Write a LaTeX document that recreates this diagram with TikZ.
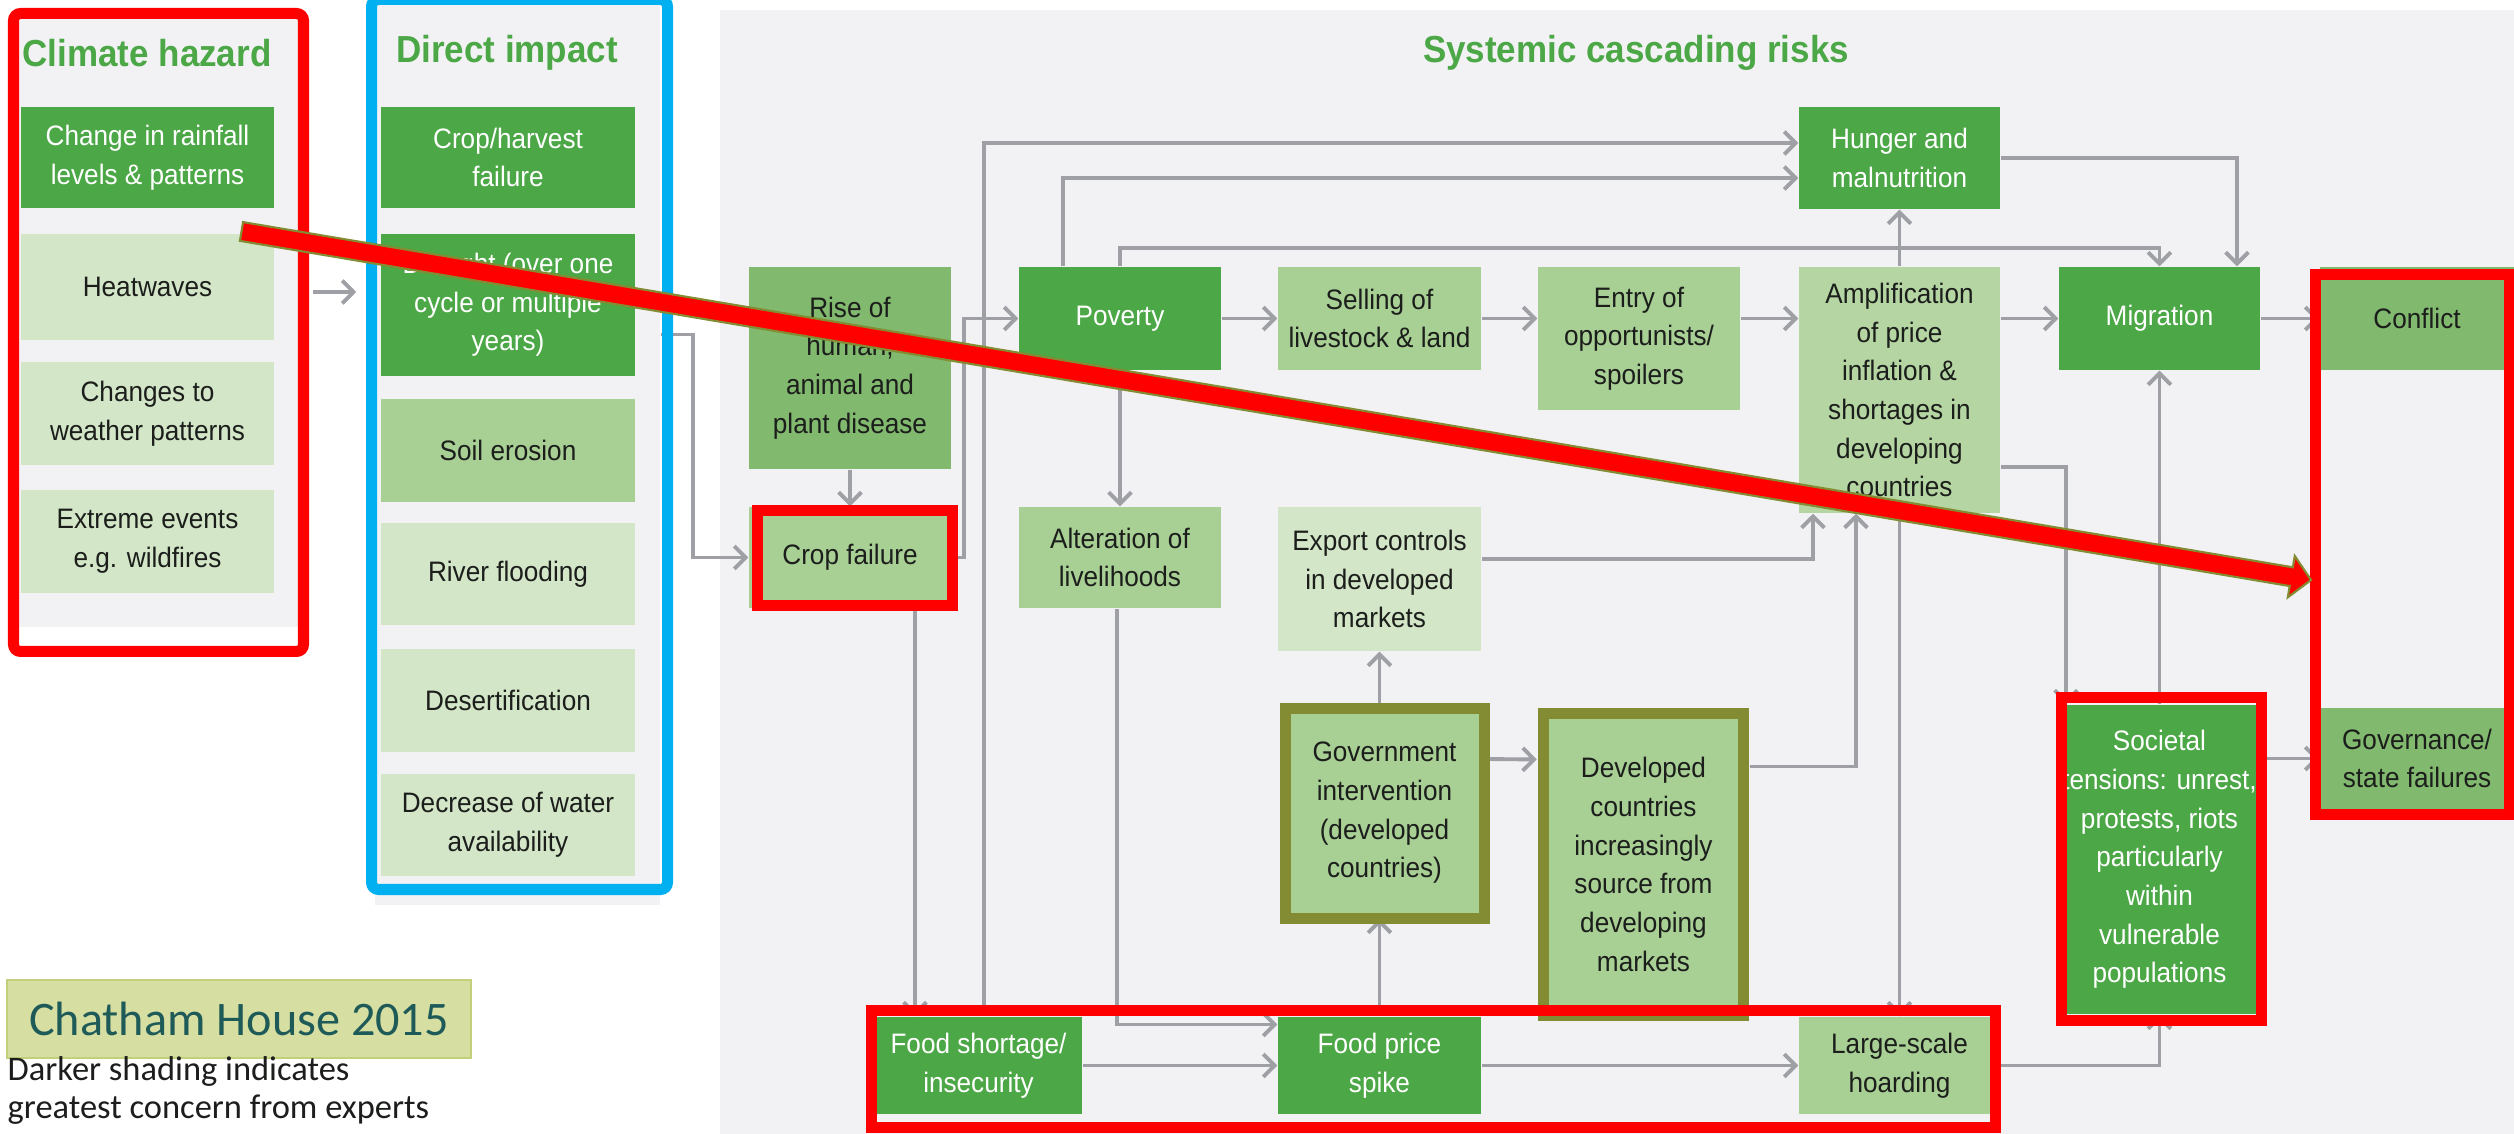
\documentclass[tikz,border=0pt]{standalone}
\usepackage{fontspec}
\setmainfont{Liberation Sans}[FakeStretch=0.93]
\newfontfamily\calibfont{Carlito}
\usepackage{xcolor}
\usepackage{tikz}
\usetikzlibrary{calc}
\usetikzlibrary{arrows.meta}

\definecolor{gdark}{RGB}{76,167,70}
\definecolor{gmed}{RGB}{129,185,110}
\definecolor{glight}{RGB}{168,207,148}
\definecolor{gpale}{RGB}{181,214,163}
\definecolor{gvlight}{RGB}{211,230,200}
\definecolor{panelgray}{RGB}{242,242,244}
\definecolor{linegray}{RGB}{158,160,166}
\definecolor{markred}{RGB}{255,0,0}
\definecolor{markblue}{RGB}{0,176,240}
\definecolor{markolive}{RGB}{131,140,50}
\definecolor{notefill}{RGB}{215,222,162}
\definecolor{notedraw}{RGB}{196,207,122}
\definecolor{noteteal}{RGB}{30,90,88}
\definecolor{boxtext}{RGB}{28,30,28}

\tikzset{
	box/.style={rectangle, inner sep=0pt, align=center, text=boxtext,
		font=\fontsize{8}{11}\selectfont, minimum width=2.02cm, minimum height=1.02cm},
	dkbox/.style={box, fill=gdark, text=white},
	mdbox/.style={box, fill=gmed},
	ltbox/.style={box, fill=glight},
	plbox/.style={box, fill=gpale},
	vlbox/.style={box, fill=gvlight},
	sz/.style 2 args={minimum width=#1cm, minimum height=#2cm},
	panel/.style={fill=panelgray, inner sep=0pt},
	conn/.style={draw=linegray, line width=1.1pt, -{Straight Barb[length=3.2pt, width=6.5pt]}},
	coltitle/.style={text=gdark, font=\fontsize{10.7}{12}\selectfont\bfseries},
	redframe/.style={draw=markred, line width=0.11cm},
	oliveframe/.style={draw=markolive, line width=0.11cm},
}

\begin{document}
\begin{tikzpicture}[x=0.01cm, y=-0.01cm]
	
	\path[use as bounding box] (0,0) rectangle (2514,1134);
	\clip (0,0) rectangle (2514,1134);
	\fill[white] (0,0) rectangle (2514,1134);
	
	% panels
	\node[panel, sz={2.86}{6.17}] (hazpanel) at (157,318.5) {};
	\node[panel, sz={2.85}{9.05}] (imppanel) at (517.5,452.5) {};
	\fill[panelgray] (720,10) rectangle (2514,1134);
	
	\node[coltitle] (hazt) at (147,53) {Climate hazard};
	\node[coltitle] (impt) at (507,53) {Direct impact};
	\node[coltitle] (syst) at (1636,53) {Systemic cascading risks};
	
	% climate hazard
	\node[dkbox, sz={2.53}{1.01}] (rain) at (147.5,157.5) {Change in rainfall\\levels \& patterns};
	\node[vlbox, sz={2.53}{1.06}] (heat) at (147.5,287) {Heatwaves};
	\node[vlbox, sz={2.53}{1.03}] (wchange) at (147.5,413.5) {Changes to\\weather patterns};
	\node[vlbox, sz={2.53}{1.03}] (extreme) at (147.5,541.5) {Extreme events\\e.g. wildfires};
	
	% direct impact
	\node[dkbox, sz={2.54}{1.01}] (harvest) at (508,157.5) {Crop/harvest\\failure};
	\node[dkbox, sz={2.54}{1.42}] (drought) at (508,305) {Drought (over one\\cycle or multiple\\years)};
	\node[ltbox, sz={2.54}{1.03}] (soil) at (508,450.5) {Soil erosion};
	\node[vlbox, sz={2.54}{1.02}] (river) at (508,574) {River flooding};
	\node[vlbox, sz={2.54}{1.03}] (desert) at (508,700.5) {Desertification};
	\node[vlbox, sz={2.54}{1.02}] (water) at (508,825) {Decrease of water\\availability};
	
	% systemic cascading risks
	\node[mdbox, sz={2.02}{2.02}] (rise) at (850,368) {Rise of\\human,\\animal and\\plant disease};
	\node[ltbox, sz={2.02}{1.01}] (cropf) at (850,557.5) {Crop failure};
	\node[dkbox, sz={2.02}{1.03}] (pov) at (1120,318.5) {Poverty};
	\node[ltbox, sz={2.03}{1.03}] (sell) at (1379.5,318.5) {Selling of\\livestock \& land};
	\node[ltbox, sz={2.02}{1.43}] (entry) at (1639,338.5) {Entry of\\opportunists/\\spoilers};
	\node[dkbox, sz={2.01}{1.02}] (hunger) at (1899.5,158) {Hunger and\\malnutrition};
	\node[plbox, sz={2.01}{2.46}] (ampl) at (1899.5,390) {Amplification\\of price\\inflation \&\\shortages in\\developing\\countries};
	\node[dkbox, sz={2.01}{1.03}] (migr) at (2159.5,318.5) {Migration};
	\node[mdbox, sz={1.94}{1.03}] (conflict) at (2417,318.5) {Conflict};
	\node[ltbox, sz={2.02}{1.01}] (alter) at (1120,557.5) {Alteration of\\livelihoods};
	\node[vlbox, sz={2.03}{1.44}] (export) at (1379.5,579) {Export controls\\in developed\\markets};
	\node[ltbox, sz={1.99}{2.10}] (gov) at (1384.5,813) {Government\\intervention\\(developed\\countries)};
	\node[ltbox, sz={2.00}{3.02}] (dev) at (1643.5,864.5) {Developed\\countries\\increasingly\\source from\\developing\\markets};
	\node[dkbox, sz={2.01}{3.09}] (soc) at (2159.5,859.5) {Societal\\tensions: unrest,\\protests, riots\\particularly\\within\\vulnerable\\populations};
	\node[mdbox, sz={1.94}{1.01}] (govfail) at (2417,758.5) {Governance/\\state failures};
	\node[dkbox, sz={2.07}{0.97}] (shortage) at (978.5,1065.5) {Food shortage/\\insecurity};
	\node[dkbox, sz={2.03}{0.97}] (spike) at (1379.5,1065.5) {Food price\\spike};
	\node[ltbox, sz={2.01}{0.97}] (hoard) at (1899.5,1065.5) {Large-scale\\hoarding};
	
	% connectors
	\draw[conn] ($(hazpanel.east |- heat)+(12,5)$) -- ($(imppanel.west |- heat)+(-18,5)$);
	\draw[conn] ($(imppanel.east)+(0,-118)$) -| ($(cropf.west)+(-55,0)$) -- (cropf.west);
	\draw[conn] (rise) -- (cropf);
	\draw[conn] (cropf.east) -- ++(12,0) |- (pov.west);
	\draw[conn] ($(shortage.north)+(5.5,0)$) |- ($(hunger.west)+(0,-15)$);
	\draw[conn] ($(pov.north)+(-57,0)$) |- ($(hunger.west)+(0,20)$);
	\draw[conn] (pov.north) -- ++(0,-18) -| (migr.north);
	\draw[conn] (hunger.east) -| ($(migr.north)+(77.5,0)$);
	\draw[conn] (ampl) -- (hunger);
	\draw[conn] (pov) -- (sell);
	\draw[conn] (sell.east) -- (sell.east -| entry.west);
	\draw[conn] (entry.east |- pov) -- (ampl.west |- pov);
	\draw[conn] (ampl.east |- migr) -- (migr.west);
	\draw[conn] (migr) -- (conflict);
	\draw[conn] (pov) -- (alter);
	\draw[conn] ($(export.east)+(0,-20)$) -| ($(ampl.south)+(-86.5,0)$);
	\draw[conn] (export.south |- gov.north) -- (export.south);
	\draw[conn] ($(gov.east)+(0,-54)$) -- ($(dev.west)+(-6,-105)$);
	\draw[conn] ($(dev.east)+(6,-98)$) -| ($(ampl.south)+(-43.5,0)$);
	\draw[conn] (ampl) -- (hoard);
	\draw[conn] ($(ampl.east)+(0,77)$) -| ($(soc.north)+(-93.5,0)$);
	\draw[conn] (soc) -- (migr);
	\draw[conn] (hoard.east) -| (soc.south);
	\draw[conn] (soc.east |- govfail) -- (govfail.west);
	\draw[conn] (shortage) -- (spike);
	\draw[conn] ($(alter.south)+(-3,0)$) |- ($(spike.west)+(0,-41)$);
	\draw[conn] ($(cropf.south)+(65,0)$) -- ($(shortage.north)+(-63.5,0)$);
	\draw[conn] (spike.north) -- (spike.north |- gov.south);
	\draw[conn] (spike) -- (hoard);
	
	% note
	\node[fill=notefill, draw=notedraw, line width=0.6pt, inner sep=0pt, sz={4.64}{0.78},
		font=\calibfont\fontsize{13.7}{15}\selectfont, text=noteteal] (note) at (239,1019) {Chatham House 2015};
	\node[anchor=north west, align=left, inner sep=0pt, text=boxtext,
		font=\calibfont\fontsize{9.8}{10.9}\selectfont] (legend) at (7,1056) {Darker shading indicates\\greatest concern from experts};
	
	% frames
	\draw[oliveframe] (1285.5,708.5) rectangle (1484.5,918.5);
	\draw[oliveframe] (1543.5,713.5) rectangle (1743.5,1015.5);
	\draw[redframe, rounded corners=2pt] (13.5,13.5) rectangle (303.5,651.5);
	\draw[draw=markblue, line width=0.11cm, rounded corners=2pt] (371.5,-0.5) rectangle (667.5,889.5);
	\draw[redframe] (757.5,510.5) rectangle (952.5,605.5);
	\draw[redframe] (871.5,1010.5) rectangle (1995.5,1127.5);
	\draw[redframe] (2061.5,697.5) rectangle (2261.5,1020.5);
	\draw[redframe] (2315.5,274.5) rectangle (2509,814.5);
	
	% red arrow
	\coordinate (ra) at (241.5,231.5);
	\coordinate (rb) at (2311,580);
	\coordinate (rh) at ($(rb)!0.2cm!(ra)$);
	\filldraw[fill=markred, draw=markolive, line width=0.6pt]
		($(ra)!0.095cm!90:(rb)$) -- ($(rh)!0.095cm!-90:(ra)$) -- ($(rh)!0.21cm!-90:(ra)$) -- (rb)
		-- ($(rh)!0.21cm!90:(ra)$) -- ($(rh)!0.095cm!90:(ra)$) -- ($(ra)!0.095cm!-90:(rb)$) -- cycle;
	
\end{tikzpicture}
\end{document}
